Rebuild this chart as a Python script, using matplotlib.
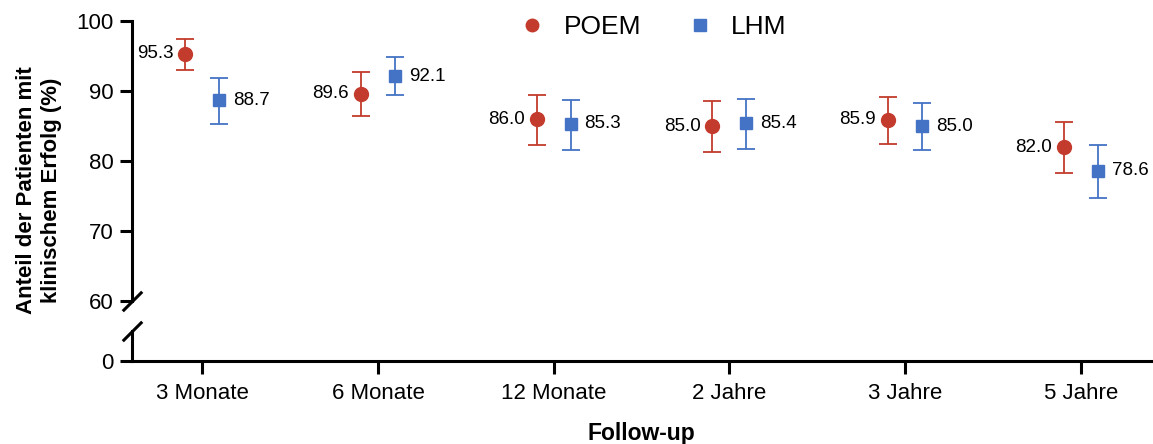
import matplotlib.pyplot as plt
from matplotlib.lines import Line2D

plt.rcParams['font.family'] = ['Liberation Sans', 'DejaVu Sans']

# Follow-up data (clinical success in %, with 95% CI)
categories = ['3 Monate', '6 Monate', '12 Monate', '2 Jahre', '3 Jahre', '5 Jahre']
poem = [95.3, 89.6, 86.0, 85.0, 85.9, 82.0]
poem_lo = [93.0, 86.4, 82.3, 81.3, 82.4, 78.3]
poem_hi = [97.4, 92.7, 89.4, 88.6, 89.1, 85.6]
lhm = [88.7, 92.1, 85.3, 85.4, 85.0, 78.6]
lhm_lo = [85.3, 89.4, 81.6, 81.7, 81.6, 74.7]
lhm_hi = [91.9, 94.9, 88.7, 88.9, 88.3, 82.3]

red = '#C33B2C'
blue = '#4473C5'
lw = 2.2

fig = plt.figure(figsize=(11.53, 4.44), dpi=100)
left, right = 132 / 1153, 1151 / 1153
ax = fig.add_axes([left, 1 - 301 / 444, right - left, 280 / 444])
axb = fig.add_axes([left, 1 - 361 / 444, right - left, 30 / 444], sharex=ax)

x = list(range(len(categories)))
off = 0.097
xp = [i - off for i in x]
xl = [i + off for i in x]

ax.errorbar(xp, poem, yerr=[[p - l for p, l in zip(poem, poem_lo)], [h - p for p, h in zip(poem, poem_hi)]],
            fmt='o', color=red, ms=10, elinewidth=1.3, capsize=6.5, capthick=1.3, zorder=3)
ax.errorbar(xl, lhm, yerr=[[p - l for p, l in zip(lhm, lhm_lo)], [h - p for p, h in zip(lhm, lhm_hi)]],
            fmt='s', color=blue, ms=9, elinewidth=1.3, capsize=6.5, capthick=1.3, zorder=3)

for xi, v in zip(xp, poem):
    ax.annotate(f'{v:.1f}', (xi, v), xytext=(-8.5, 0), textcoords='offset points',
                ha='right', va='center', fontsize=13.5)
for xi, v in zip(xl, lhm):
    ax.annotate(f'{v:.1f}', (xi, v), xytext=(10, 0), textcoords='offset points',
                ha='left', va='center', fontsize=13.5)

ax.set_xlim(-0.4, 5.4)
ax.set_ylim(60, 100)
ax.set_yticks([60, 70, 80, 90, 100])
for s in ['top', 'right', 'bottom']:
    ax.spines[s].set_visible(False)
ax.spines['left'].set_linewidth(lw)
ax.tick_params(axis='x', which='both', bottom=False, labelbottom=False)
ax.tick_params(axis='y', length=9, width=lw, labelsize=16, pad=4)

axb.set_ylim(0, 4.3)
axb.set_yticks([0])
for s in ['top', 'right']:
    axb.spines[s].set_visible(False)
axb.spines['left'].set_linewidth(lw)
axb.spines['bottom'].set_linewidth(lw)
axb.set_xticks(x)
axb.set_xticklabels(categories)
axb.tick_params(axis='both', length=9, width=lw, labelsize=16, pad=4)
axb.tick_params(axis='x', pad=7)
axb.set_xlabel('Follow-up', fontsize=16.5, fontweight='bold', labelpad=13)

# axis break marks
kw = dict(marker=[(-1, -1), (1, 1)], markersize=14, linestyle='none', color='k',
          mec='k', mew=lw, clip_on=False)
ax.plot([0], [0], transform=ax.transAxes, **kw)
axb.plot([0], [1], transform=axb.transAxes, **kw)

fig.text(39 / 1153, 1 - 190 / 444, 'Anteil der Patienten mit\nklinischem Erfolg (%)',
         rotation=90, ha='center', va='center', fontsize=16, fontweight='bold',
         multialignment='center', linespacing=1.2)

handles = [Line2D([], [], marker='o', color=red, ls='none', ms=9),
           Line2D([], [], marker='s', color=blue, ls='none', ms=8)]
fig.legend(handles, ['POEM', 'LHM'], loc='center', bbox_to_anchor=(653 / 1153, 1 - 27 / 444),
           ncol=2, frameon=False, fontsize=19, handletextpad=0.7, columnspacing=1.7,
           handlelength=1.0)

fig.savefig('out.png', dpi=100)
